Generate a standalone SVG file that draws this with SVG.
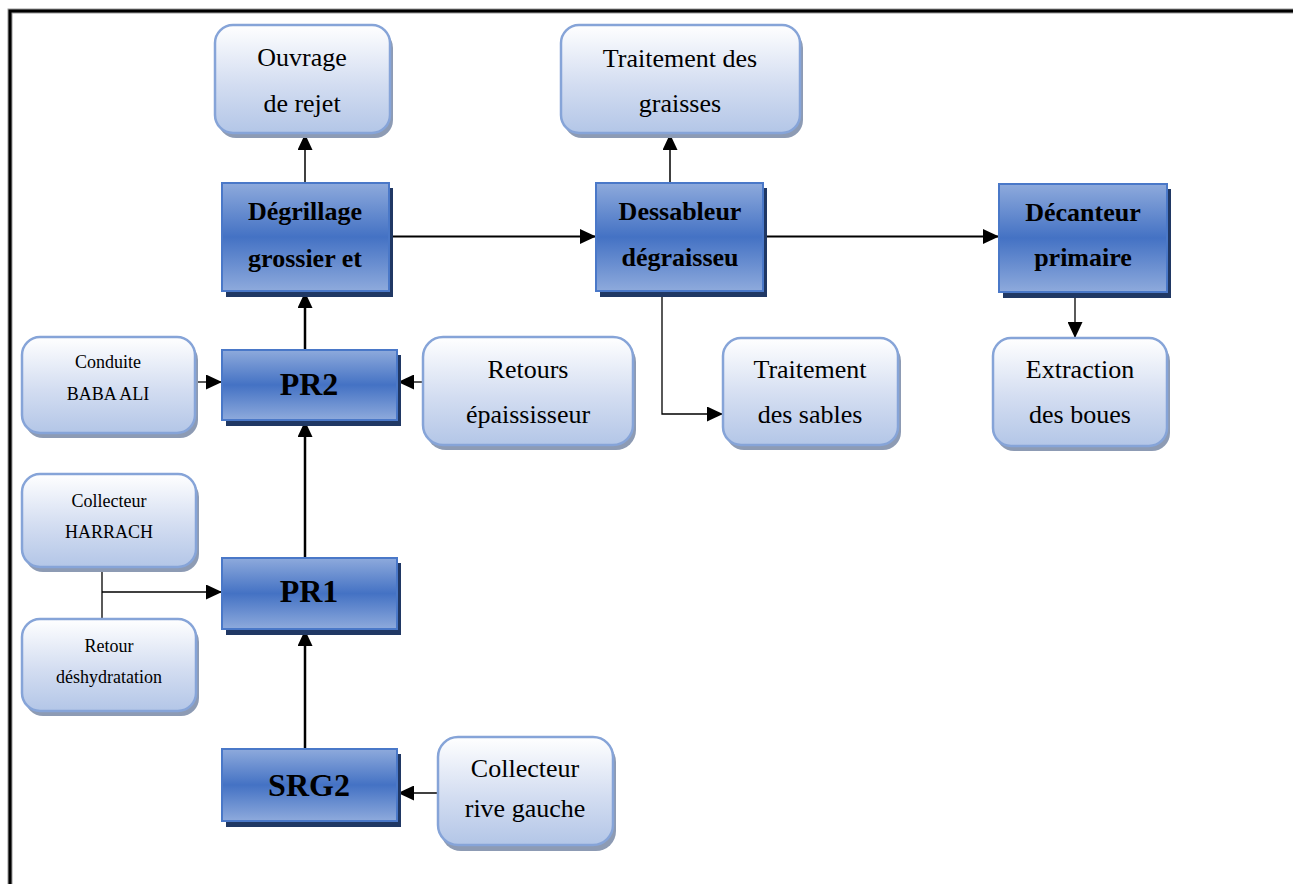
<svg xmlns="http://www.w3.org/2000/svg" width="1293" height="884" viewBox="0 0 1293 884">
<defs>
<linearGradient id="gl" x1="0" y1="0" x2="0" y2="1">
<stop offset="0" stop-color="#ffffff"/>
<stop offset="0.55" stop-color="#d3ddf1"/>
<stop offset="1" stop-color="#b3c6e7"/>
</linearGradient>
<linearGradient id="gd" x1="0" y1="0" x2="0" y2="1">
<stop offset="0" stop-color="#8eaadc"/>
<stop offset="0.5" stop-color="#4472c4"/>
<stop offset="1" stop-color="#8eaadc"/>
</linearGradient>
<marker id="ah" markerUnits="userSpaceOnUse" markerWidth="16" markerHeight="15" refX="16" refY="7.5" orient="auto">
<path d="M0,0 L16,7.5 L0,15 z" fill="#000"/>
</marker>
</defs>
<style>
.ls{fill:#8d9bb4}
.lb{fill:url(#gl);stroke:#86a4d8;stroke-width:2.5}
.ds{fill:#203864}
.db{fill:url(#gd);stroke:#4a78c8;stroke-width:2}
.t{font-family:"Liberation Serif","Times New Roman",serif;fill:#000;text-anchor:middle}
.n{font-size:26px}
.s{font-size:18px}
.b{font-size:26px;font-weight:bold}
.B{font-size:32px;font-weight:bold}
.c{fill:none;stroke:#000}
</style>
<rect width="1293" height="884" fill="#fff"/>
<path d="M10 884 L10 11 L1293 11" fill="none" stroke="#9a9a9a" stroke-width="5"/>
<path d="M10 884 L10 11 L1293 11" fill="none" stroke="#000" stroke-width="3"/>

<g id="connectors">
<line class="c" x1="305" y1="183" x2="305" y2="134" stroke-width="1.5" marker-end="url(#ah)"/>
<line class="c" x1="670" y1="183" x2="670" y2="134" stroke-width="1.5" marker-end="url(#ah)"/>
<line class="c" x1="389" y1="236.5" x2="596" y2="236.5" stroke-width="2" marker-end="url(#ah)"/>
<line class="c" x1="763" y1="236.5" x2="999" y2="236.5" stroke-width="2" marker-end="url(#ah)"/>
<polyline class="c" points="668,291 662,291 662,414 723,414" stroke-width="1.3" marker-end="url(#ah)"/>
<line class="c" x1="1075" y1="292" x2="1075" y2="338" stroke-width="1.3" marker-end="url(#ah)"/>
<line class="c" x1="305" y1="350" x2="305" y2="292" stroke-width="2.5" marker-end="url(#ah)"/>
<line class="c" x1="305" y1="558" x2="305" y2="421" stroke-width="2.5" marker-end="url(#ah)"/>
<line class="c" x1="305" y1="749" x2="305" y2="630" stroke-width="2.5" marker-end="url(#ah)"/>
<line class="c" x1="195" y1="382" x2="222" y2="382" stroke-width="1.3" marker-end="url(#ah)"/>
<line class="c" x1="423" y1="382" x2="398" y2="382" stroke-width="1.3" marker-end="url(#ah)"/>
<line class="c" x1="102" y1="567" x2="102" y2="619" stroke-width="1.3"/>
<line class="c" x1="102" y1="592" x2="222" y2="592" stroke-width="1.3" marker-end="url(#ah)"/>
<line class="c" x1="438" y1="793" x2="398" y2="793" stroke-width="1.3" marker-end="url(#ah)"/>
</g>

<g id="ouvrage">
<rect class="ls" x="218" y="30" width="175" height="108" rx="18"/>
<rect class="lb" x="215" y="25" width="175" height="108" rx="18"/>
<text class="t n" x="302" y="66">Ouvrage</text>
<text class="t n" x="302" y="112">de rejet</text>
</g>

<g id="graisses">
<rect class="ls" x="564" y="30" width="239" height="108" rx="18"/>
<rect class="lb" x="561" y="25" width="239" height="108" rx="18"/>
<text class="t n" x="680" y="67">Traitement des</text>
<text class="t n" x="680" y="112">graisses</text>
</g>

<g id="degrillage">
<rect class="ds" x="226" y="188" width="167" height="109"/>
<rect class="db" x="222" y="183" width="167" height="108"/>
<text class="t b" x="305" y="220">Dégrillage</text>
<text class="t b" x="305" y="267">grossier et</text>
</g>

<g id="dessableur">
<rect class="ds" x="600" y="188" width="167" height="109"/>
<rect class="db" x="596" y="183" width="167" height="108"/>
<text class="t b" x="680" y="220">Dessableur</text>
<text class="t b" x="680" y="266">dégraisseu</text>
</g>

<g id="decanteur">
<rect class="ds" x="1003" y="189" width="168" height="109"/>
<rect class="db" x="999" y="184" width="168" height="108"/>
<text class="t b" x="1083" y="221">Décanteur</text>
<text class="t b" x="1083" y="266">primaire</text>
</g>

<g id="conduite">
<rect class="ls" x="25" y="342" width="173" height="96" rx="18"/>
<rect class="lb" x="22" y="337" width="173" height="96" rx="18"/>
<text class="t s" x="108" y="368">Conduite</text>
<text class="t s" x="108" y="400">BABA ALI</text>
</g>

<g id="pr2">
<rect class="ds" x="226" y="355" width="175" height="71"/>
<rect class="db" x="222" y="350" width="175" height="70"/>
<text class="t B" x="309" y="395">PR2</text>
</g>

<g id="retours">
<rect class="ls" x="426" y="342" width="210" height="108" rx="20"/>
<rect class="lb" x="423" y="337" width="210" height="108" rx="20"/>
<text class="t n" x="528" y="378">Retours</text>
<text class="t n" x="528" y="423">épaississeur</text>
</g>

<g id="sables">
<rect class="ls" x="726" y="343" width="175" height="107" rx="18"/>
<rect class="lb" x="723" y="338" width="175" height="107" rx="18"/>
<text class="t n" x="810" y="378">Traitement</text>
<text class="t n" x="810" y="423">des sables</text>
</g>

<g id="extraction">
<rect class="ls" x="996" y="343" width="174" height="108" rx="18"/>
<rect class="lb" x="993" y="338" width="174" height="108" rx="18"/>
<text class="t n" x="1080" y="378">Extraction</text>
<text class="t n" x="1080" y="423">des boues</text>
</g>

<g id="harrach">
<rect class="ls" x="25" y="479" width="174" height="93" rx="18"/>
<rect class="lb" x="22" y="474" width="174" height="93" rx="18"/>
<text class="t s" x="109" y="507">Collecteur</text>
<text class="t s" x="109" y="538">HARRACH</text>
</g>

<g id="pr1">
<rect class="ds" x="226" y="563" width="175" height="72"/>
<rect class="db" x="222" y="558" width="175" height="71"/>
<text class="t B" x="309" y="602">PR1</text>
</g>

<g id="deshydratation">
<rect class="ls" x="25" y="624" width="174" height="92" rx="18"/>
<rect class="lb" x="22" y="619" width="174" height="92" rx="18"/>
<text class="t s" x="109" y="652">Retour</text>
<text class="t s" x="109" y="683">déshydratation</text>
</g>

<g id="srg2">
<rect class="ds" x="226" y="754" width="175" height="73"/>
<rect class="db" x="222" y="749" width="175" height="72"/>
<text class="t B" x="309" y="796">SRG2</text>
</g>

<g id="rivegauche">
<rect class="ls" x="441" y="742" width="175" height="109" rx="20"/>
<rect class="lb" x="438" y="737" width="175" height="108" rx="20"/>
<text class="t n" x="525" y="777">Collecteur</text>
<text class="t n" x="525" y="817">rive gauche</text>
</g>
</svg>
